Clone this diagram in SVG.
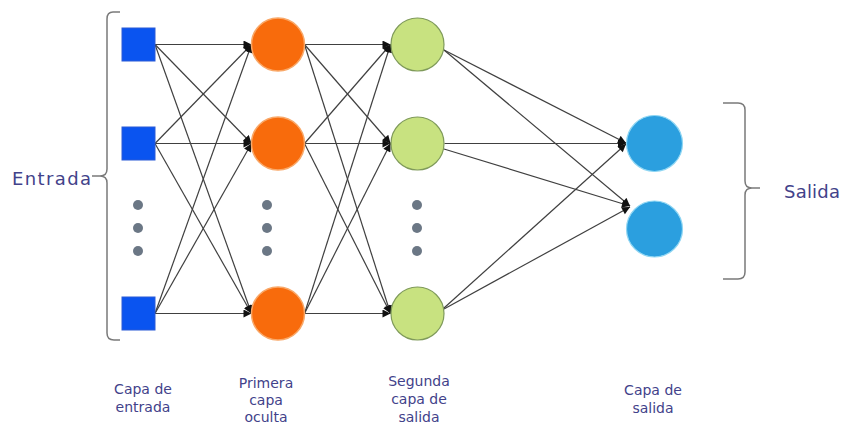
<svg xmlns="http://www.w3.org/2000/svg" width="848" height="426" viewBox="0 0 848 426">
<style>
.sq{fill:#0a54f0;stroke:#2b5bd6;stroke-width:1}
.h1{fill:#f86b0c;stroke:#f9a868;stroke-width:1.5}
.h2{fill:#c8e280;stroke:#7f9a5a;stroke-width:1.2}
.out{fill:#2b9fdf;stroke:#8fd6f3;stroke-width:1.2}
.dot{fill:#6b7785}
.c{stroke:#404040;stroke-width:1.2;fill:none;marker-end:url(#ah)}
.br{stroke:#7a7a7a;stroke-width:1.5;fill:none}
.lbl{font-family:"DejaVu Sans","Liberation Sans",sans-serif;fill:#42428a}
.sm{font-size:14px;text-anchor:middle}
.big{font-size:18px}
</style>
<defs>
<marker id="ah" viewBox="0 0 10 10" markerWidth="9" markerHeight="8" refX="10" refY="5" orient="auto" markerUnits="userSpaceOnUse">
<path d="M0,0 L10,5 L0,10 z" fill="#111"/>
</marker>
</defs>
<rect width="848" height="426" fill="#fff"/>

<g id="connectors">
<line class="c" x1="155" y1="44.5" x2="251.5" y2="44.5"/>
<line class="c" x1="155" y1="44.5" x2="251.5" y2="143.5"/>
<line class="c" x1="155" y1="44.5" x2="251.5" y2="313.5"/>
<line class="c" x1="155" y1="143.5" x2="251.5" y2="44.5"/>
<line class="c" x1="155" y1="143.5" x2="251.5" y2="143.5"/>
<line class="c" x1="155" y1="143.5" x2="251.5" y2="313.5"/>
<line class="c" x1="155" y1="313.5" x2="251.5" y2="44.5"/>
<line class="c" x1="155" y1="313.5" x2="251.5" y2="143.5"/>
<line class="c" x1="155" y1="313.5" x2="251.5" y2="313.5"/>
<line class="c" x1="304.5" y1="44.5" x2="390.5" y2="44.5"/>
<line class="c" x1="304.5" y1="44.5" x2="390.5" y2="143.5"/>
<line class="c" x1="304.5" y1="44.5" x2="390.5" y2="313.5"/>
<line class="c" x1="304.5" y1="143.5" x2="390.5" y2="44.5"/>
<line class="c" x1="304.5" y1="143.5" x2="390.5" y2="143.5"/>
<line class="c" x1="304.5" y1="143.5" x2="390.5" y2="313.5"/>
<line class="c" x1="304.5" y1="313.5" x2="390.5" y2="44.5"/>
<line class="c" x1="304.5" y1="313.5" x2="390.5" y2="143.5"/>
<line class="c" x1="304.5" y1="313.5" x2="390.5" y2="313.5"/>
<line class="c" x1="444" y1="50" x2="626" y2="143"/>
<line class="c" x1="444" y1="50" x2="630" y2="206"/>
<line class="c" x1="444.5" y1="143.5" x2="626" y2="143.5"/>
<line class="c" x1="444" y1="149" x2="630" y2="206"/>
<line class="c" x1="444" y1="308" x2="626" y2="144"/>
<line class="c" x1="444" y1="309" x2="630" y2="207"/>
</g>

<g id="input1"><rect class="sq" x="122" y="28" width="33" height="33"/></g>
<g id="input2"><rect class="sq" x="122" y="127" width="33" height="33"/></g>
<g id="input-dots"><circle class="dot" cx="138" cy="205" r="5"/><circle class="dot" cx="138" cy="228" r="5"/><circle class="dot" cx="138" cy="251" r="5"/></g>
<g id="input3"><rect class="sq" x="122" y="297" width="33" height="33"/></g>

<g id="hidden1a"><circle class="h1" cx="278" cy="44.5" r="26.5"/></g>
<g id="hidden1b"><circle class="h1" cx="278" cy="143.5" r="26.5"/></g>
<g id="hidden1-dots"><circle class="dot" cx="267" cy="205" r="5"/><circle class="dot" cx="267" cy="228" r="5"/><circle class="dot" cx="267" cy="251" r="5"/></g>
<g id="hidden1c"><circle class="h1" cx="278" cy="313.5" r="26.5"/></g>

<g id="hidden2a"><circle class="h2" cx="417.5" cy="44.5" r="26.5"/></g>
<g id="hidden2b"><circle class="h2" cx="417.5" cy="143.5" r="26.5"/></g>
<g id="hidden2-dots"><circle class="dot" cx="417" cy="205" r="5"/><circle class="dot" cx="417" cy="228" r="5"/><circle class="dot" cx="417" cy="251" r="5"/></g>
<g id="hidden2c"><circle class="h2" cx="417.5" cy="313.5" r="26.5"/></g>

<g id="output1"><circle class="out" cx="654.5" cy="143.5" r="28"/></g>
<g id="output2"><circle class="out" cx="654.5" cy="229" r="28"/></g>

<g id="entrada">
<path class="br" d="M120,12 L113,12 Q107,12 107,19 L107,169 Q107,176 100,176 L92,176 M100,176 Q107,176 107,183 L107,333 Q107,340 114,340 L120,340"/>
<text class="lbl big" x="12" y="185" textLength="79" lengthAdjust="spacing">Entrada</text>
</g>

<g id="salida">
<path class="br" d="M723,103 L738,103 Q745,103 745,110 L745,181 Q745,188 752,188 L760,188 M752,188 Q745,188 745,195 L745,272 Q745,279 738,279 L723,279"/>
<text class="lbl big" x="784" y="198" textLength="56" lengthAdjust="spacing">Salida</text>
</g>

<g id="label-entrada" class="lbl sm">
<text x="143" y="394">Capa de</text>
<text x="143" y="412">entrada</text>
</g>
<g id="label-oculta" class="lbl sm">
<text x="266" y="388">Primera</text>
<text x="266" y="405">capa</text>
<text x="266" y="422">oculta</text>
</g>
<g id="label-segunda" class="lbl sm">
<text x="419" y="386">Segunda</text>
<text x="419" y="404">capa de</text>
<text x="419" y="422">salida</text>
</g>
<g id="label-salida" class="lbl sm">
<text x="653" y="395">Capa de</text>
<text x="653" y="413">salida</text>
</g>
</svg>
